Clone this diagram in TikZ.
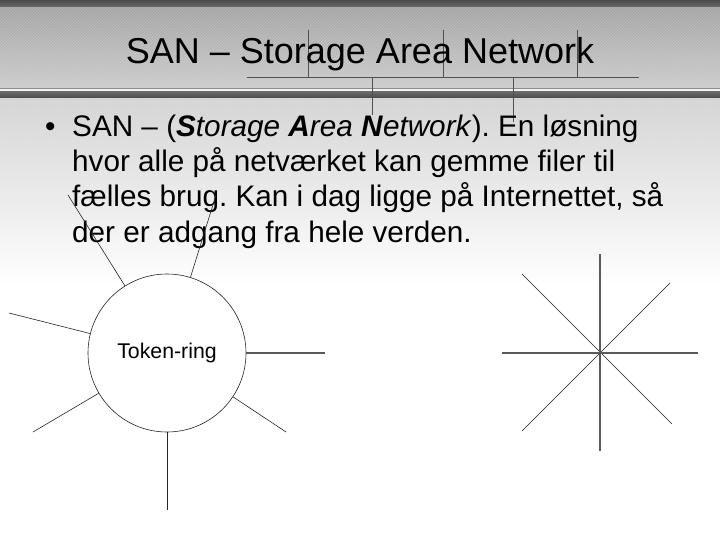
\documentclass[tikz,border=0pt]{standalone}
\usepackage{fontspec}
\setmainfont{Liberation Sans}
\usetikzlibrary{patterns}
\definecolor{bandtop}{HTML}{4A4A4A}
\definecolor{bandbot}{HTML}{6A6A6A}
\definecolor{hdrtop}{HTML}{A4A4A4}
\definecolor{hdrbot}{HTML}{CCCCCC}
\definecolor{bodytop}{HTML}{D4D4D4}
\definecolor{orgline}{HTML}{505050}
\definecolor{thickgray}{HTML}{5A5A5A}
\frenchspacing
\begin{document}
\begin{tikzpicture}[x=1pt,y=-1pt,
  spoke/.style={draw=black!85, line width=0.6pt},
  spokethick/.style={draw=thickgray, line width=1.1pt},
  starmain/.style={draw=thickgray, line width=1.4pt},
  stardiag/.style={draw=black!90, line width=0.6pt},
  org/.style={draw=orgline, line width=0.7pt},
  bodytext/.style={anchor=base west, inner sep=0pt, font=\fontsize{29.7}{35.6}\selectfont}]
\useasboundingbox (0,0) rectangle (720,540);
% background
\fill[white] (0,0) rectangle (720,540);
\shade[top color=bodytop, bottom color=white] (0,98) rectangle (720,285);
\fill[pattern=north east lines, pattern color=white, opacity=0.12] (0,98) rectangle (720,200);
\shade[top color=hdrtop, bottom color=hdrbot] (0,7) rectangle (720,88.5);
\fill[pattern=north east lines, pattern color=white, opacity=0.18] (0,7) rectangle (720,88.5);
\shade[top color=bandtop, bottom color=bandbot] (0,0) rectangle (720,7);
\fill[black!45] (0,88.5) rectangle (720,89.5);
\fill[white!95!black] (0,89.5) rectangle (720,91.5);
\shade[top color=bandbot, bottom color=bandtop] (0,91.5) rectangle (720,98);
% leftover chart lines
\coordinate (h1) at (247,77);
\coordinate (h2) at (639,77);
\coordinate (v1t) at (308,30); \coordinate (v1b) at (308,77);
\coordinate (v2t) at (443,30); \coordinate (v2b) at (443,77);
\coordinate (v3t) at (577,30); \coordinate (v3b) at (577,77);
\coordinate (d1t) at (372,77); \coordinate (d1b) at (372,115);
\coordinate (d2t) at (513,77); \coordinate (d2b) at (513,122);
\draw[org] (h1) -- (h2);
\draw[org] (v1t) -- (v1b);
\draw[org] (v2t) -- (v2b);
\draw[org] (v3t) -- (v3b);
\draw[org] (d1t) -- (d1b);
\draw[org] (d2t) -- (d2b);
% title
\node[anchor=base, inner sep=0pt, font=\fontsize{36}{43}\selectfont] (title) at (360,64) {SAN – Storage Area Network};
% bullet text
\node[bodytext] (bullet) at (45,137) {•};
\node[bodytext] (l1) at (72,137) {SAN – (\textbf{\textit{S}}\textit{torage }\textbf{\textit{A}}\textit{rea }\textbf{\textit{N}}\textit{etwork}). En løsning};
\node[bodytext] (l2) at (72,172) {hvor alle på netværket kan gemme filer til};
\node[bodytext] (l3) at (72,207) {fælles brug. Kan i dag ligge på Internettet, så};
\node[bodytext] (l4) at (72,242) {der er adgang fra hele verden.};
% token ring
\coordinate (c1) at (325,353);
\coordinate (c2) at (167,510);
\coordinate (c3) at (286,432);
\coordinate (c4) at (33,432);
\coordinate (c5) at (9,313);
\coordinate (c6) at (68,195);
\coordinate (c7) at (216,195);
\node[circle, draw=black!85, line width=0.6pt, fill=white, minimum size=158pt, inner sep=0pt,
      font=\fontsize{21.3}{25}\selectfont] (ring) at (167,353) {Token-ring};
\draw[spokethick] (ring) -- (c1);
\draw[spoke] (ring) -- (c2);
\draw[spoke] (ring) -- (c3);
\draw[spoke] (ring) -- (c4);
\draw[spoke] (ring) -- (c5);
\draw[spoke] (ring) -- (c6);
\draw[spoke] (ring) -- (c7);
% star
\coordinate (sn) at (600,254);
\coordinate (ss) at (600,451);
\coordinate (sw) at (502,353);
\coordinate (se) at (698,353);
\coordinate (snw) at (522,274);
\coordinate (sse) at (672,424);
\coordinate (sne) at (670,283);
\coordinate (ssw) at (522,431);
\draw[stardiag] (snw) -- (sse);
\draw[stardiag] (sne) -- (ssw);
\draw[starmain] (sn) -- (ss);
\draw[starmain] (sw) -- (se);
\end{tikzpicture}
\end{document}
